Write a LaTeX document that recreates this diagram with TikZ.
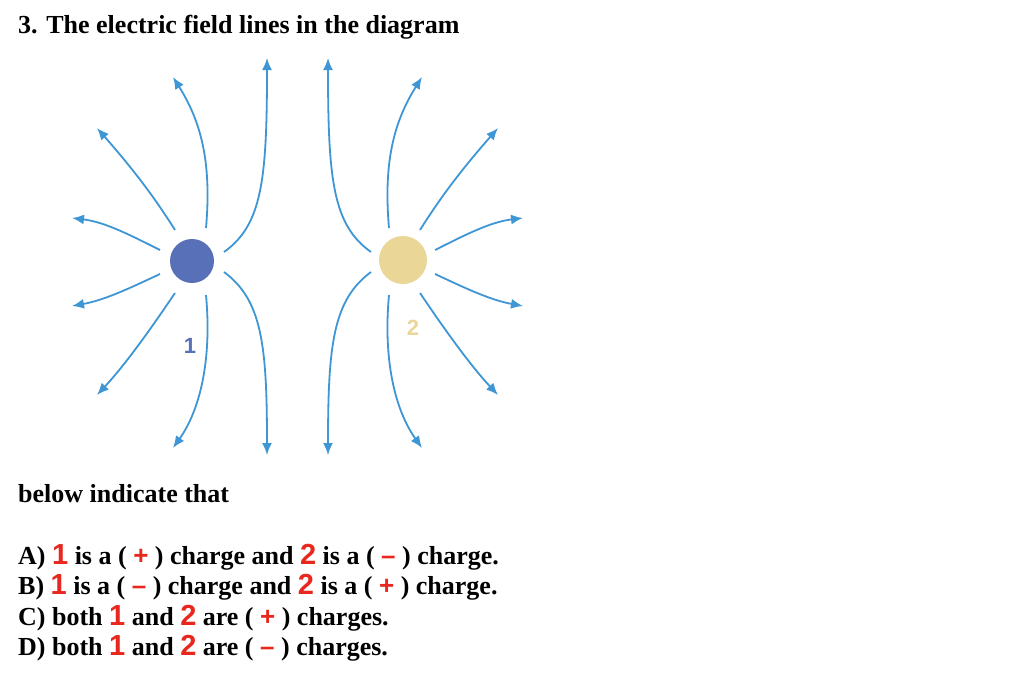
\documentclass[tikz,border=0pt]{standalone}
\usepackage{fontspec}
\setmainfont{Liberation Serif}
\newfontfamily\numfont{Liberation Sans}
\usetikzlibrary{arrows.meta}
\definecolor{fl}{RGB}{62,150,212}
\definecolor{cone}{RGB}{88,112,184}
\definecolor{ctwo}{RGB}{234,214,150}
\definecolor{rd}{RGB}{232,40,30}
\newcommand{\rn}[1]{{\numfont\bfseries\fontsize{29}{29}\selectfont\textcolor{rd}{#1}}}
\newcommand{\rs}[1]{{\numfont\bfseries\textcolor{rd}{#1}}}
\tikzset{fline/.style={fl,line width=1.8pt,-{Latex[length=12pt,width=10pt]}},
 txt/.style={anchor=base west,inner sep=0pt,font=\bfseries\fontsize{26}{26}\selectfont}}
\begin{document}
\begin{tikzpicture}[x=1pt,y=-1pt]
\useasboundingbox (0,0) rectangle (1024,675);
\fill[white] (0,0) rectangle (1024,675);
\newcommand{\flines}{
 \draw[fline] (224,252) .. controls (262,225) and (267,180) .. (267,58);
 \draw[fline] (206,228) .. controls (212,160) and (200,120) .. (173,77);
 \draw[fline] (175,230) .. controls (150,190) and (125,160) .. (97,128);
 \draw[fline] (160,250) .. controls (130,235) and (105,222) .. (72,218);
 \draw[fline] (160,274) .. controls (130,288) and (105,300) .. (72,306);
 \draw[fline] (175,293) .. controls (150,330) and (125,365) .. (97,395);
 \draw[fline] (206,295) .. controls (212,360) and (200,410) .. (173,448);
 \draw[fline] (224,272) .. controls (262,300) and (267,345) .. (267,455);}
\flines
\begin{scope}[xshift=595pt,xscale=-1]\flines\end{scope}
\fill[cone] (192,261) circle (22);
\fill[ctwo] (403,260) circle (24);
\node[cone,font=\numfont\fontsize{22}{22}\selectfont\bfseries] (l1) at (190,346) {1};
\node[ctwo,font=\numfont\fontsize{22}{22}\selectfont\bfseries] (l2) at (413,328) {2};
\node[txt] (t0) at (18,33) {3. The electric field lines in the diagram};
\node[txt] (t1) at (18,502) {below indicate that};
\node[txt] (a) at (18,564) {A) \rn{1} is a ( \rs{+} ) charge and \rn{2} is a ( \rs{–} ) charge.};
\node[txt] (b) at (18,594) {B) \rn{1} is a ( \rs{–} ) charge and \rn{2} is a ( \rs{+} ) charge.};
\node[txt] (c) at (18,625) {C) both \rn{1} and \rn{2} are ( \rs{+} ) charges.};
\node[txt] (d) at (18,655) {D) both \rn{1} and \rn{2} are ( \rs{–} ) charges.};
\end{tikzpicture}
\end{document}
